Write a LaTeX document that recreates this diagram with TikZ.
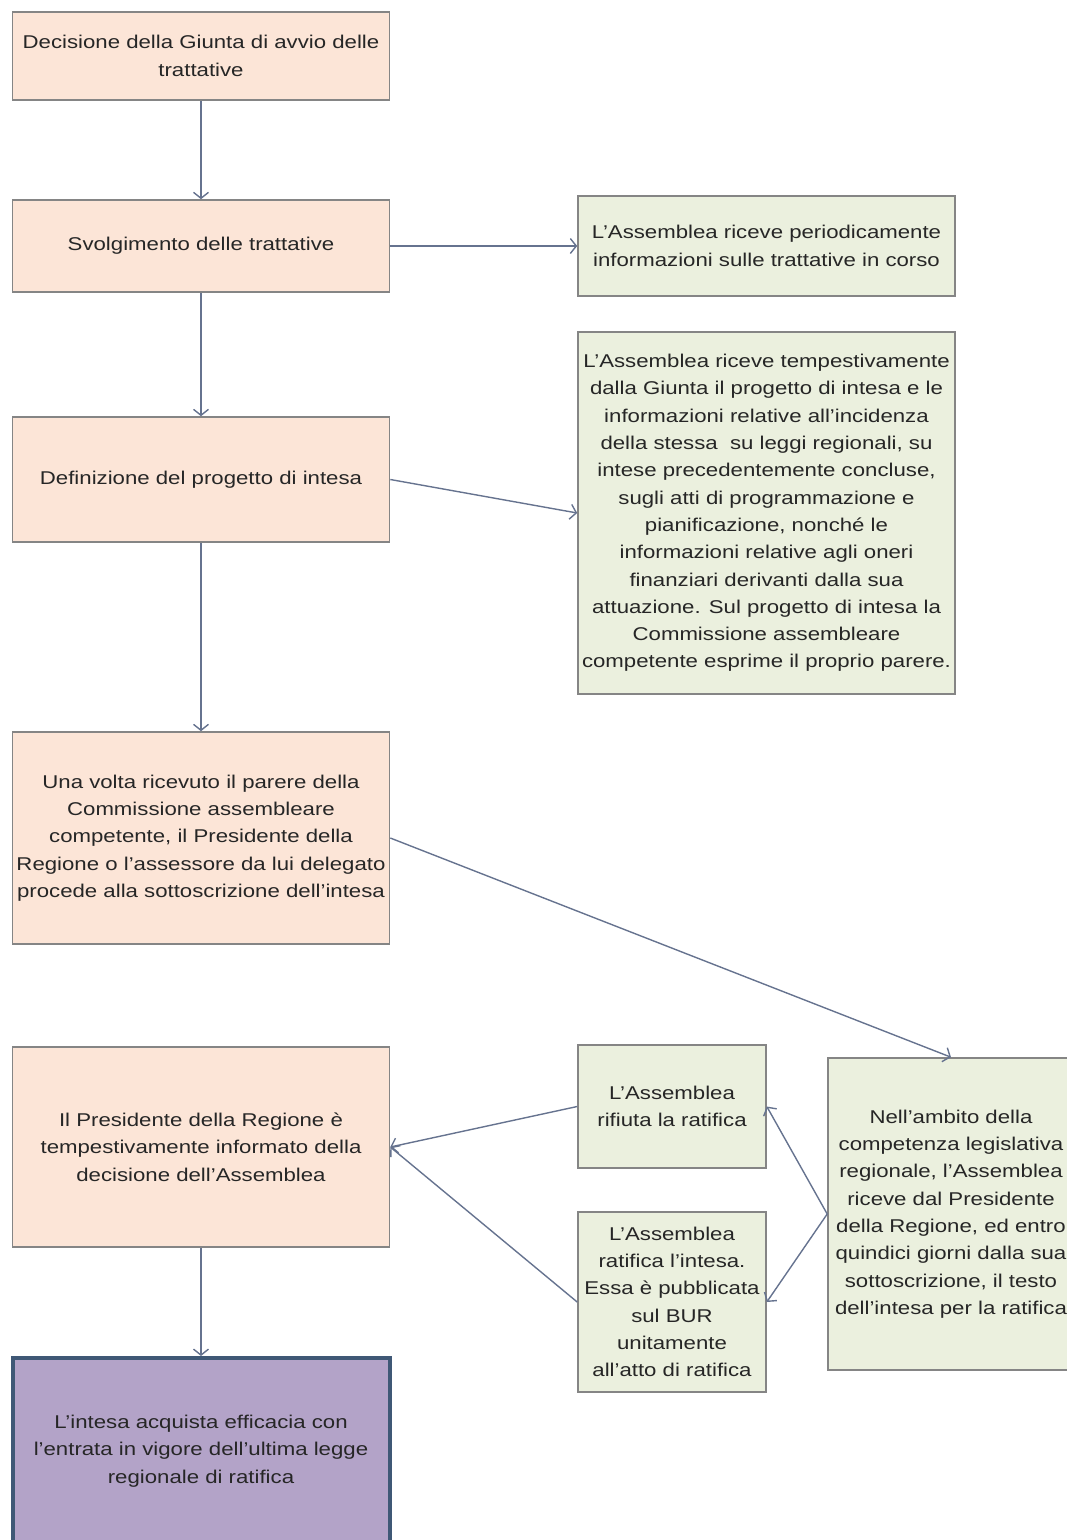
\documentclass[tikz,border=0pt]{standalone}
\usepackage{fontspec}
\setmainfont[FakeStretch=1.2]{Liberation Sans}
\usetikzlibrary{arrows.meta, positioning}

\definecolor{peach}{HTML}{FCE5D7}
\definecolor{sage}{HTML}{EBF0DE}
\definecolor{lilac}{HTML}{B3A3C8}
\definecolor{edgegrey}{HTML}{858585}
\definecolor{linkblue}{HTML}{66738F}
\definecolor{deepblue}{HTML}{3F5876}

\begin{document}
\begin{tikzpicture}[
    x=1pt, y=-1pt,
    font=\fontsize{18.5pt}{27.3pt}\selectfont,
    % 1. Core Shapes
    proc/.style={draw=edgegrey, line width=1.6pt, fill=peach, minimum width=377pt, inner sep=1pt, align=center, text=black!85},
    info/.style={draw=edgegrey, line width=1.6pt, fill=sage, inner sep=1pt, align=center, text=black!85},
    final/.style={draw=deepblue, line width=4pt, fill=lilac, minimum width=377pt, inner sep=1pt, align=center, text=black!85},
    % 2. Routing Arrows
    arr/.style={draw=linkblue, line width=1.4pt, -{Straight Barb[length=6pt,width=15pt]}}
]
\useasboundingbox (0,0) rectangle (1067,1540);

% ===============================
% Main column: Giunta and Presidente
% ===============================
\node[proc, minimum height=88pt] (avvio) at (201, 56) {Decisione della Giunta di avvio delle\\trattative};
\node[proc, minimum height=92pt] (svolg) at (201, 246) {Svolgimento delle trattative};
\node[proc, minimum height=125pt] (progetto) at (201, 479.5) {Definizione del progetto di intesa};
\node[proc, minimum height=212pt] (firma) at (201, 838) {Una volta ricevuto il parere della\\Commissione assembleare\\competente, il Presidente della\\Regione o l'assessore da lui delegato\\procede alla sottoscrizione dell'intesa};
\node[proc, minimum height=200pt] (esito) at (201, 1147) {Il Presidente della Regione è\\tempestivamente informato della\\decisione dell'Assemblea};
\node[final, minimum height=186pt] (efficacia) at (201, 1451) {L'intesa acquista efficacia con\\l'entrata in vigore dell'ultima legge\\regionale di ratifica};

% ===============================
% Assemblea side
% ===============================
\node[info, minimum width=377pt, minimum height=100pt] (periodica) at (766.5, 246) {L'Assemblea riceve periodicamente\\informazioni sulle trattative in corso};
\node[info, minimum width=377pt, minimum height=362pt] (parere) at (766.5, 513) {L'Assemblea riceve tempestivamente\\dalla Giunta il progetto di intesa e le\\informazioni relative all'incidenza\\della stessa\ \ su leggi regionali, su\\intese precedentemente concluse,\\sugli atti di programmazione e\\pianificazione, nonché le\\informazioni relative agli oneri\\finanziari derivanti dalla sua\\attuazione. Sul progetto di intesa la\\Commissione assembleare\\competente esprime il proprio parere.};
\node[info, minimum width=188pt, minimum height=123pt] (rifiuto) at (672, 1106.5) {L'Assemblea\\rifiuta la ratifica};
\node[info, minimum width=188pt, minimum height=180pt] (ratifica) at (672, 1302) {L'Assemblea\\ratifica l'intesa.\\Essa è pubblicata\\sul BUR\\unitamente\\all'atto di ratifica};
\node[info, minimum width=246pt, minimum height=312pt] (ambito) at (951, 1214) {Nell'ambito della\\competenza legislativa\\regionale, l'Assemblea\\riceve dal Presidente\\della Regione, ed entro\\quindici giorni dalla sua\\sottoscrizione, il testo\\dell'intesa per la ratifica};

% Linear flow
\draw[arr] (avvio) -- (svolg);
\draw[arr] (svolg) -- (progetto);
\draw[arr] (progetto) -- (firma);
\draw[arr] (esito) -- (efficacia);

% Information to the Assemblea
\draw[arr] (svolg.east) -- (periodica.west);
\draw[arr] (progetto.east) -- (parere.west);
\draw[arr] (firma.east) -- (ambito.north);

% Ratifica outcomes
\draw[arr] (ambito.west) -- (rifiuto.east);
\draw[arr] (ambito.west) -- (ratifica.east);
\draw[arr] (rifiuto.west) -- (esito.east);
\draw[arr] (ratifica.west) -- (esito.east);

\end{tikzpicture}
\end{document}
